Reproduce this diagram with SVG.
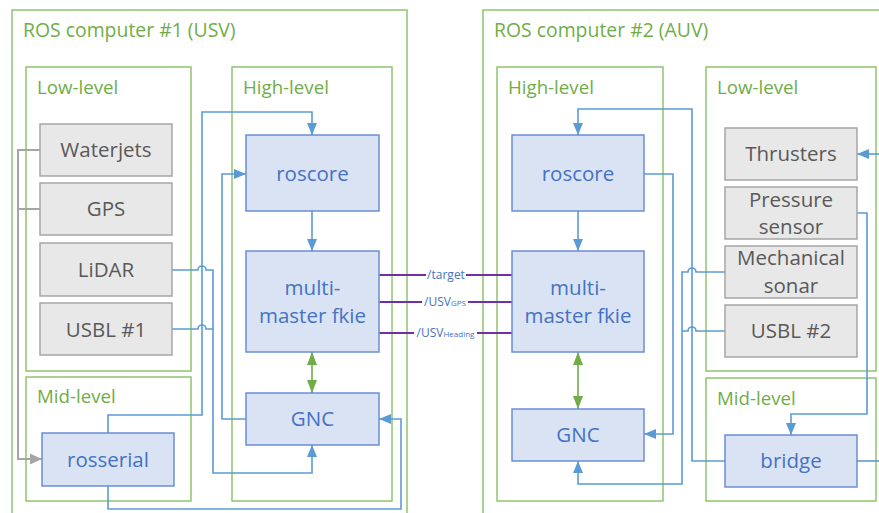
<svg xmlns="http://www.w3.org/2000/svg" width="879" height="513" viewBox="0 0 879 513">
<defs>
<marker id="ab" markerUnits="userSpaceOnUse" markerWidth="12" markerHeight="10" viewBox="0 0 12 10" refX="12" refY="5" orient="auto"><path d="M0,0 L12,5 L0,10 z" fill="#5B9BD5"/></marker>
<marker id="ag" markerUnits="userSpaceOnUse" markerWidth="13" markerHeight="10" viewBox="0 0 13 10" refX="13" refY="5" orient="auto-start-reverse"><path d="M0,0 L13,5 L0,10 z" fill="#70AD47"/></marker>
<marker id="ay" markerUnits="userSpaceOnUse" markerWidth="12" markerHeight="11" viewBox="0 0 12 11" refX="12" refY="5.5" orient="auto"><path d="M0,0 L12,5.5 L0,11 z" fill="#A5A5A5"/></marker>
</defs>
<style>
text{font-family:"Open Sans","Liberation Sans",sans-serif}
.grp{fill:none;stroke:#8FC46C;stroke-width:1.5}
.sec{font-size:18.7px;fill:#70AD47}
.ttl{font-size:19.4px}
.hw rect{fill:#E8E8E8;stroke:#A6A6A6;stroke-width:1.5}
.hw text{fill:#595959;font-size:20.5px;text-anchor:middle}
.sw rect{fill:#DAE3F3;stroke:#6A8FD4;stroke-width:1.5}
.sw text{fill:#4472C4;font-size:20.5px;text-anchor:middle}
.c{fill:none;stroke:#5B9BD5;stroke-width:1.6}
.cy{fill:none;stroke:#A5A5A5;stroke-width:2}
.cg{fill:none;stroke:#70AD47;stroke-width:1.6}
.tp{fill:none;stroke:#7030A0;stroke-width:2}
.tl{fill:#4472C4;font-size:12px;text-anchor:middle}
.bg{fill:#FFFFFF}
</style>
<rect x="0" y="0" width="879" height="513" fill="#FFFFFF"/>

<g id="containers">
<g id="usv-computer"><rect class="grp" x="12" y="10" width="395" height="520"/><text class="sec ttl" x="23" y="37">ROS computer #1 (USV)</text></g>
<g id="usv-low"><rect class="grp" x="26" y="67" width="165" height="304"/><text class="sec" x="37" y="94">Low-level</text></g>
<g id="usv-mid"><rect class="grp" x="26" y="377" width="165" height="124"/><text class="sec" x="37" y="403">Mid-level</text></g>
<g id="usv-high"><rect class="grp" x="232" y="67" width="160" height="434"/><text class="sec" x="243" y="94">High-level</text></g>
<g id="auv-computer"><rect class="grp" x="483" y="10" width="420" height="520"/><text class="sec ttl" x="494" y="37">ROS computer #2 (AUV)</text></g>
<g id="auv-high"><rect class="grp" x="497" y="67" width="166" height="434"/><text class="sec" x="508" y="94">High-level</text></g>
<g id="auv-low"><rect class="grp" x="706" y="67" width="170" height="304"/><text class="sec" x="717" y="94">Low-level</text></g>
<g id="auv-mid"><rect class="grp" x="706" y="378" width="170" height="123"/><text class="sec" x="717" y="405">Mid-level</text></g>
</g>

<g id="connectors">
<path class="cy" d="M40,150 H18 V459 H42" marker-end="url(#ay)"/>
<path class="cy" d="M40,209 H18"/>
<path class="c" d="M108,433 V415 H202 V112 H312 V135" marker-end="url(#ab)"/>
<path class="c" d="M246,419 H222 V174 H246" marker-end="url(#ab)"/>
<path class="c" d="M172,270 H198 A4,4 0 0 1 206,270 H213 V473 H312 V445" marker-end="url(#ab)"/>
<path class="c" d="M172,329 H198 A4,4 0 0 1 206,329 H213"/>
<path class="c" d="M108,486 V509 H401 V419 H379" marker-end="url(#ab)"/>
<path class="c" d="M312,211 V251" stroke-width="1.1" marker-end="url(#ab)"/>
<path class="cg" d="M312,352 V393" marker-start="url(#ag)" marker-end="url(#ag)"/>

<path class="c" d="M725,461 H692 V109 H578 V135" marker-end="url(#ab)"/>
<path class="c" d="M644,174 H673 V434 H644" marker-end="url(#ab)"/>
<path class="c" d="M725,272 H696 A4,4 0 0 0 688,272 H682 V484 H578 V461" marker-end="url(#ab)"/>
<path class="c" d="M725,331 H696 A4,4 0 0 0 688,331 H682"/>
<path class="c" d="M857,213 H867 V414 H791 V435" marker-end="url(#ab)"/>
<path class="c" d="M857,461 H879"/>
<path class="c" d="M879,154 H857" marker-end="url(#ab)"/>
<path class="c" d="M578,211 V251" marker-end="url(#ab)"/>
<path class="cg" d="M578,352 V409" marker-start="url(#ag)" marker-end="url(#ag)"/>

<path class="tp" d="M379,275 H512"/>
<path class="tp" d="M379,302 H512"/>
<path class="tp" d="M379,333 H512"/>
<rect class="bg" x="426" y="268" width="40" height="15"/>
<rect class="bg" x="422" y="295" width="46" height="14"/>
<rect class="bg" x="414" y="326" width="63" height="14"/>
<text class="tl" x="446" y="279">/target</text>
<text class="tl" x="445" y="306">/USV<tspan font-size="8px">GPS</tspan></text>
<text class="tl" x="445.5" y="337">/USV<tspan font-size="8px">Heading</tspan></text>
</g>

<g id="waterjets" class="hw"><rect x="40" y="124" width="132" height="52"/><text x="106" y="157">Waterjets</text></g>
<g id="gps" class="hw"><rect x="40" y="183" width="132" height="52"/><text x="106" y="216">GPS</text></g>
<g id="lidar" class="hw"><rect x="40" y="243" width="132" height="53"/><text x="106" y="277">LiDAR</text></g>
<g id="usbl1" class="hw"><rect x="40" y="303" width="132" height="52"/><text x="106" y="337">USBL #1</text></g>
<g id="rosserial" class="sw"><rect x="42" y="433" width="132" height="53"/><text x="108" y="467">rosserial</text></g>
<g id="roscore1" class="sw"><rect x="246" y="135" width="133" height="76"/><text x="312.5" y="181">roscore</text></g>
<g id="multimaster1" class="sw"><rect x="246" y="251" width="133" height="101"/><text x="312.5" y="295">multi-</text><text x="312.5" y="323">master fkie</text></g>
<g id="gnc1" class="sw"><rect x="246" y="393" width="133" height="52"/><text x="312.5" y="426">GNC</text></g>

<g id="roscore2" class="sw"><rect x="512" y="135" width="132" height="76"/><text x="578" y="181">roscore</text></g>
<g id="multimaster2" class="sw"><rect x="512" y="251" width="132" height="101"/><text x="578" y="295">multi-</text><text x="578" y="323">master fkie</text></g>
<g id="gnc2" class="sw"><rect x="512" y="409" width="132" height="52"/><text x="578" y="442">GNC</text></g>
<g id="thrusters" class="hw"><rect x="725" y="128" width="132" height="52"/><text x="791" y="161">Thrusters</text></g>
<g id="pressure" class="hw"><rect x="725" y="187" width="132" height="52"/><text x="791" y="207">Pressure</text><text x="791" y="234">sensor</text></g>
<g id="mechsonar" class="hw"><rect x="725" y="246" width="132" height="52"/><text x="791" y="265">Mechanical</text><text x="791" y="293">sonar</text></g>
<g id="usbl2" class="hw"><rect x="725" y="305" width="132" height="52"/><text x="791" y="338">USBL #2</text></g>
<g id="bridge" class="sw"><rect x="725" y="435" width="132" height="52"/><text x="791" y="468">bridge</text></g>
</svg>
